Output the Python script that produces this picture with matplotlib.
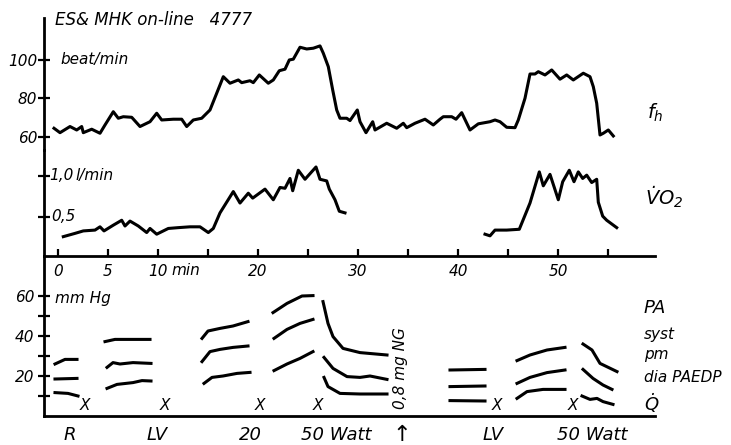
import numpy as np
import matplotlib.pyplot as plt

plt.rcParams['font.family'] = ['DejaVu Sans']
plt.rcParams['font.style'] = 'italic'
plt.rcParams['mathtext.fontset'] = 'custom'
plt.rcParams['mathtext.it'] = 'DejaVu Sans:italic'
plt.rcParams['mathtext.rm'] = 'DejaVu Sans:italic'

# heart rate (beat/min) vs time (min)
hr_t = [-0.4, 0.2, 1.2, 1.87, 2.37, 2.53, 3.37, 4.2, 4.7, 5.53, 6.03, 6.53, 7.37, 8.2, 9.2,
        9.87, 10.37, 11.53, 12.37, 12.87, 13.53, 14.37, 15.2, 15.87, 16.53, 17.2, 18.03,
        18.37, 19.2, 19.53, 20.13, 21.03, 21.53, 22.13, 22.7, 23.13, 23.53, 24.2, 24.87,
        25.53, 26.2, 26.53, 27.03, 27.47, 27.87, 28.2, 28.87, 29.2, 29.93, 30.2, 30.8,
        31.47, 31.7, 32.87, 33.87, 34.53, 34.87, 35.7, 36.7, 37.53, 38.2, 38.53, 39.37,
        39.8, 40.37, 41.2, 42.03, 43.2, 43.7, 44.2, 44.87, 45.7, 46.03, 46.7, 47.2, 47.7,
        48.03, 48.7, 49.37, 50.2, 50.87, 51.53, 52.53, 53.2, 53.53, 53.87, 54.2, 54.53,
        55.03, 55.53]
hr = [64.5, 62.2, 65.4, 63.6, 65.4, 62.2, 64.0, 61.9, 66.2, 73.1, 69.7, 70.5, 70.2, 65.4, 67.9,
      72.3, 68.8, 69.2, 69.2, 65.4, 68.8, 69.7, 74.0, 82.7, 91.3, 87.9, 89.6,
      88.2, 89.2, 88.2, 92.2, 87.9, 89.6, 94.4, 95.2, 100.0, 100.4, 106.6, 105.7,
      106.1, 107.3, 103.5, 96.5, 84.4, 74.0, 69.7, 69.7, 68.5, 74.0, 67.9, 62.2,
      67.9, 63.6, 67.1, 64.5, 67.1, 64.8, 67.1, 69.2, 66.2, 69.2, 70.5, 70.5,
      69.2, 72.6, 63.6, 66.8, 67.9, 68.8, 67.9, 65.0, 64.8, 68.8, 80.1, 92.7, 92.7,
      93.9, 92.2, 94.8, 90.0, 92.2, 89.6, 93.1, 91.3, 86.1, 77.5, 61.0, 61.9,
      63.6, 60.5]

# oxygen uptake (l/min), two recorded stretches
vo2_t1 = [0.53, 1.7, 2.53, 3.7, 4.2, 4.6, 5.53, 6.37, 6.7, 7.2, 8.03, 8.87, 9.2, 9.87, 11.03,
          12.03, 13.2, 14.2, 15.03, 15.53, 16.2, 17.53, 18.2, 19.03, 19.47, 20.7, 21.53,
          22.2, 22.7, 23.2, 23.47, 24.03, 24.7, 25.8, 26.2, 26.87, 27.13, 27.7, 28.13, 28.7]
vo2_1 = [0.26, 0.30, 0.33, 0.34, 0.38, 0.33, 0.40, 0.46, 0.39, 0.45, 0.39, 0.31, 0.36, 0.29, 0.36,
         0.37, 0.38, 0.38, 0.31, 0.36, 0.55, 0.81, 0.67, 0.79, 0.73, 0.84, 0.71,
         0.86, 0.85, 0.97, 0.82, 1.07, 0.96, 1.11, 0.96, 0.94, 0.84, 0.71, 0.57, 0.55]
vo2_t2 = [42.7, 43.2, 43.7, 44.87, 46.13, 47.2, 48.13, 48.53, 49.2, 50.03, 50.47, 51.13, 51.6,
          52.03, 52.47, 52.87, 53.37, 53.87, 54.03, 54.47, 54.87, 55.87]
vo2_2 = [0.29, 0.27, 0.34, 0.34, 0.35, 0.67, 1.05, 0.88, 1.02, 0.71, 0.93, 1.07, 0.93,
         1.05, 0.97, 1.01, 0.92, 0.96, 0.68, 0.51, 0.46, 0.37]

# pulmonary artery pressure segments (mm Hg): syst, pm, dia per measurement
pa_segments = [
    ([-0.3, 0.7, 1.9], [26, 28.3, 28.3]),
    ([-0.3, 1.9], [18.5, 18.8]),
    ([-0.3, 1.0, 2.0], [11.7, 11.3, 10.0]),
    ([4.7, 5.7, 9.2], [37.2, 38.3, 38.3]),
    ([4.9, 5.5, 6.2, 7.5, 9.3], [24.3, 26.7, 26.0, 26.7, 26.3]),
    ([4.9, 5.9, 7.5, 8.4, 9.3], [13.8, 15.8, 16.7, 17.7, 17.5]),
    ([14.4, 15.0, 16.2, 17.5, 19.0], [38.8, 42.5, 43.8, 45.0, 47.2]),
    ([14.4, 15.2, 16.2, 17.5, 19.0], [27.2, 32.2, 33.3, 34.3, 35.0]),
    ([14.6, 15.4, 16.5, 17.9, 19.2], [16.3, 19.3, 20.0, 21.3, 21.8]),
    ([21.5, 22.9, 24.4, 25.5], [51.7, 56.3, 60.0, 60.2]),
    ([21.6, 22.9, 24.2, 25.5], [38.8, 43.3, 46.3, 48.3]),
    ([21.6, 22.9, 24.2, 25.5], [22.7, 26.0, 28.8, 32.2]),
    ([26.5, 27.0, 27.5, 28.5, 30.2, 32.9], [57.2, 46.3, 39.7, 33.8, 31.7, 30.5]),
    ([26.6, 27.5, 28.9, 30.2, 31.2, 32.9], [29.3, 23.8, 19.7, 19.3, 20.0, 18.3]),
    ([26.6, 27.0, 28.2, 30.2, 32.9], [19.3, 14.7, 11.3, 11.0, 11.0]),
    ([39.2, 42.7], [23.0, 23.3]),
    ([39.2, 42.7], [14.7, 15.0]),
    ([39.2, 42.7], [7.7, 7.5]),
    ([45.9, 47.2, 48.9, 50.7], [27.7, 30.5, 33.0, 34.3]),
    ([45.9, 47.2, 48.9, 50.7], [16.3, 19.3, 21.7, 23.0]),
    ([45.9, 46.9, 48.5, 50.7], [8.8, 12.2, 13.3, 13.3]),
    ([52.5, 53.4, 54.2, 55.9], [36.0, 33.0, 26.3, 22.2]),
    ([52.5, 53.5, 54.5, 55.4], [23.3, 18.8, 15.5, 13.3]),
    ([52.4, 53.2, 53.9, 54.5, 55.5], [10.0, 8.3, 8.8, 7.2, 5.8]),
]
q_marks = [2.7, 10.7, 20.2, 26.0, 43.9, 51.5]

bottom_labels = ['R', 'LV', '20', '50 Watt', '\u2191', 'LV', '50 Watt']
bottom_pos = [1.2, 9.9, 19.2, 27.8, 34.4, 43.5, 53.4]

W, H = 731, 445
fig = plt.figure(figsize=(W / 100, H / 100), dpi=100)
L = 44 / W
Wd = 611 / W
xlim = (-1.4, 59.7)
fs = 11
lw = 2.2

ax1 = fig.add_axes([L, 1 - 150 / H, Wd, 132 / H])
ax2 = fig.add_axes([L, 1 - 256 / H, Wd, 106 / H])
ax3 = fig.add_axes([L, 1 - 416 / H, Wd, 160 / H])
for ax in (ax1, ax2, ax3):
    ax.set_xlim(*xlim)
    ax.patch.set_alpha(0)
    for s in ('top', 'right', 'bottom'):
        ax.spines[s].set_visible(False)
    ax.spines['left'].set_linewidth(2)
    ax.tick_params(axis='y', direction='inout', length=8, width=1.6, labelsize=fs)

# heart rate
ax1.set_ylim(53.2, 121.8)
ax1.plot(hr_t, hr, color='black', lw=lw)
ax1.set_yticks([60, 80, 100])
ax1.tick_params(axis='y', pad=1)
ax1.set_xticks([])
ax1.text(0.2, 100, 'beat/min', fontsize=fs, va='center')
ax1.text(58.9, 72.5, '$f_h$', fontsize=14, va='center')

# VO2
ax2.set_ylim(0.024, 1.317)
ax2.plot(vo2_t1, vo2_1, color='black', lw=lw)
ax2.plot(vo2_t2, vo2_2, color='black', lw=lw)
ax2.set_yticks([0.5, 1.0])
ax2.set_yticklabels([])
ax2.text(-0.9, 1.0, '1,0', fontsize=fs, va='center')
ax2.text(1.7, 1.0, 'l/min', fontsize=fs, va='center')
ax2.text(-0.7, 0.5, '0,5', fontsize=fs, va='center')
ax2.text(58.7, 0.74, r'$\dot{\mathrm{V}}\mathrm{O}_2$', fontsize=14, va='center')
ax2.spines['bottom'].set_visible(True)
ax2.spines['bottom'].set_linewidth(2)
ax2.set_xticks(np.arange(0, 60, 5))
ax2.set_xticklabels(['0', '5', '10', '', '20', '', '30', '', '40', '', '50', ''])
ax2.tick_params(axis='x', direction='in', length=5, width=1.6, pad=6, labelsize=fs)
ax2.text(11.3, -0.06, 'min', fontsize=fs, va='top')

# pulmonary artery pressure
ax3.set_ylim(0, 80)
for xs, ys in pa_segments:
    ax3.plot(xs, ys, color='black', lw=lw)
for x in q_marks:
    ax3.text(x, 5, 'X', fontsize=fs, ha='center', va='center')
ax3.set_yticks(np.arange(10, 70, 10))
ax3.set_yticklabels(['', '20', '', '40', '', '60'])
ax3.tick_params(axis='y', pad=3)
ax3.spines['bottom'].set_visible(True)
ax3.spines['bottom'].set_linewidth(2)
ax3.set_xticks([])
ax3.text(-0.3, 58.5, 'mm Hg', fontsize=fs, va='center')
ax3.text(34.2, 24, '0,8 mg NG', fontsize=fs, rotation=90, ha='center', va='center')
for x, lab in zip(bottom_pos, bottom_labels):
    size = 16 if lab == '\u2191' else 13
    ax3.text(x, -9.5, lab, fontsize=size, ha='center', va='center', clip_on=False)
ax3.text(58.6, 54, 'PA', fontsize=13, va='center')
ax3.text(58.6, 40.5, 'syst', fontsize=fs, va='center')
ax3.text(58.6, 30.5, 'pm', fontsize=fs, va='center')
ax3.text(58.6, 19.5, 'dia PAEDP', fontsize=fs, va='center')
ax3.text(58.6, 6.5, r'$\dot{Q}$', fontsize=13, va='center')

fig.text(55 / W, 1 - 20 / H, 'ES& MHK on-line   4777', fontsize=12, va='center')

fig.savefig('out.png', dpi=100)
